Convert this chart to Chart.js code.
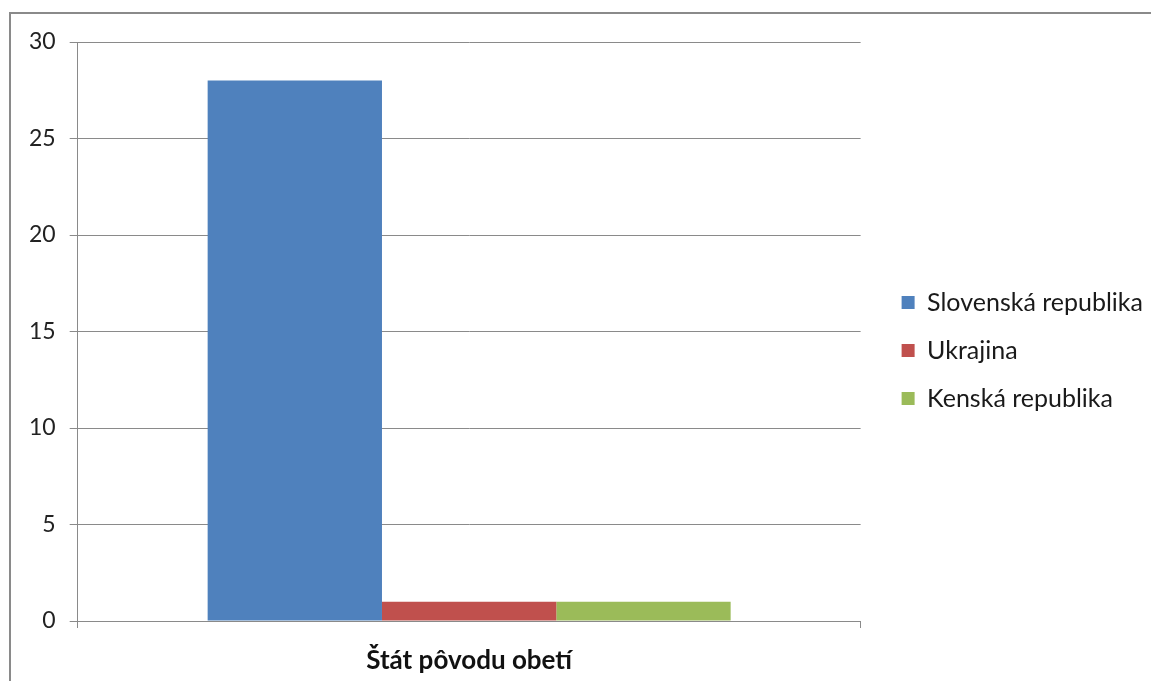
<!DOCTYPE html>
<html>
<head>
<meta charset="utf-8">
<script src="https://cdn.jsdelivr.net/npm/chart.js@4"></script>
<style>
html,body{margin:0;padding:0;background:#fff;overflow:hidden;}
#wrap{position:relative;width:1151px;height:681px;}
#frame{position:absolute;left:9px;top:12px;width:1200px;height:720px;border:2px solid #8a8a8a;box-sizing:border-box;}
canvas{position:absolute;left:0;top:0;}
</style>
</head>
<body>
<div id="wrap">
<div id="frame"></div>
<canvas id="c" width="1151" height="681"></canvas>
</div>
<script>
const categories = ["Štát pôvodu obetí"];
const seriesNames = ["Slovenská republika", "Ukrajina", "Kenská republika"];
const slovenska = [28];
const ukrajina = [1];
const kenska = [1];
const yTicks = [0, 5, 10, 15, 20, 25, 30];

const colors = ["#4F81BD", "#C0504D", "#9BBB59"];
const seriesValues = [slovenska, ukrajina, kenska];
const FONT = "Lato, 'Open Sans', sans-serif";

const legendShift = {
  id: 'legendShift',
  afterLayout(chart) {
    const l = chart.legend;
    if (l) { l.left += 18; l.right += 18; l.top -= 11; l.bottom -= 11; }
  }
};

new Chart(document.getElementById('c'), {
  type: 'bar',
  data: {
    labels: categories,
    datasets: seriesNames.map((n, i) => ({
      label: n,
      data: seriesValues[i],
      backgroundColor: colors[i],
      borderWidth: 0,
      categoryPercentage: 0.668,
      barPercentage: 1.0
    }))
  },
  options: {
    responsive: false,
    animation: false,
    devicePixelRatio: 1,
    layout: { padding: { left: 15, top: 42, right: 16, bottom: 0 } },
    plugins: {
      legend: {
        position: 'right',
        align: 'center',
        labels: {
          boxWidth: 13, boxHeight: 13,
          padding: 23,
          color: '#1a1a1a',
          font: { family: FONT, size: 25 }
        }
      },
      tooltip: { enabled: false }
    },
    scales: {
      x: {
        offset: true,
        afterFit(axis) { axis.height = 60; },
        grid: { offset: true, drawOnChartArea: false, drawTicks: true, tickLength: 7, color: '#8a8a8a', lineWidth: 1 },
        border: { color: '#8a8a8a', width: 1 },
        ticks: { color: '#111', padding: 17, font: { family: FONT, size: 26, weight: 'bold' } }
      },
      y: {
        min: 0, max: 30,
        afterBuildTicks(axis) { axis.ticks = yTicks.map(v => ({ value: v })); },
        grid: { color: '#8a8a8a', lineWidth: 1, drawTicks: true, tickLength: 8 },
        border: { color: '#8a8a8a', width: 1 },
        ticks: { color: '#222', padding: 14, font: { family: FONT, size: 23 } }
      }
    }
  },
  plugins: [legendShift]
});
</script>
</body>
</html>
